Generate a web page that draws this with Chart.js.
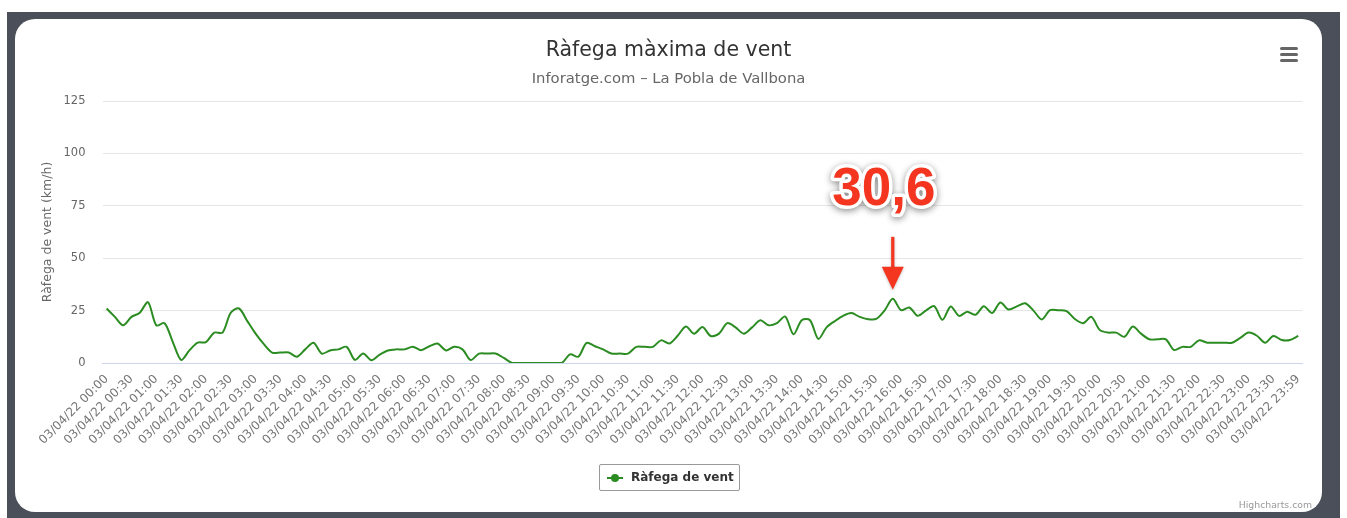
<!DOCTYPE html>
<html>
<head>
<meta charset="utf-8">
<script src="https://cdn.jsdelivr.net/npm/chart.js@4.4.1/dist/chart.umd.min.js"></script>
<style>
  html, body { margin: 0; padding: 0; background: #fff; width: 1347px; height: 518px; overflow: hidden; font-family: "DejaVu Sans", sans-serif; }
  #frame { position: absolute; left: 7px; top: 12px; width: 1333px; height: 506px; background: #4a4f59; }
  #card { position: absolute; left: 15px; top: 19px; width: 1307px; height: 493px; background: #fff; border-radius: 20px; overflow: hidden; }
  #chart { position: absolute; left: 0; top: 0; }
  #title { position: absolute; left: 0; top: 20px; width: 100%; text-align: center; font-size: 20.5px; line-height: 20.5px; color: #333; white-space: nowrap; }
  #subtitle { position: absolute; left: 0; top: 52px; width: 100%; text-align: center; font-size: 14.8px; line-height: 14.8px; color: #666; white-space: nowrap; }
  #menu { position: absolute; left: 1265px; top: 28px; width: 18px; height: 16px; }
  #menu i { position: absolute; left: 0; width: 18px; height: 3px; border-radius: 1.5px; background: #666; }
  #legend { position: absolute; left: 584px; top: 445px; width: 139px; height: 25px; border: 1px solid #999; border-radius: 2px; box-sizing: content-box; }
  #legend .line { position: absolute; left: 7px; top: 12px; width: 16px; height: 2px; background: #2b8c22; }
  #legend .dot { position: absolute; left: 11px; top: 9px; width: 8px; height: 8px; border-radius: 50%; background: #2b8c22; }
  #legend .txt { position: absolute; left: 31px; top: 5px; font-size: 12px; line-height: 14px; font-weight: bold; color: #333; white-space: nowrap; }
  #credits { position: absolute; right: 10px; top: 481px; font-size: 9.3px; line-height: 10px; color: #999; white-space: nowrap; }
</style>
</head>
<body>
<div id="frame"></div>
<div id="card">
  <canvas id="chart" width="1307" height="493"></canvas>
  <div id="title"></div>
  <div id="subtitle"></div>
  <div id="menu"><i style="top:0"></i><i style="top:6px"></i><i style="top:12px"></i></div>
  <div id="legend"><span class="line"></span><span class="dot"></span><span class="txt" id="legText"></span></div>
  <div id="credits">Highcharts.com</div>
</div>
<script>
const chartTitle = 'Ràfega màxima de vent';
const chartSubtitle = 'Inforatge.com – La Pobla de Vallbona';
const yAxisTitle = 'Ràfega de vent (km/h)';
const seriesName = 'Ràfega de vent';
const datePrefix = '03/04/22';
const lastTime = '23:59';

// 10-minute gust readings, 00:00 .. 23:50 plus 23:59 (km/h)
const gustValues = [
  26, 22, 18, 22, 24, 29, 18, 19, 10, 1.5,
  6, 9.7, 10, 14.5, 14.5, 24, 26, 20, 14, 9,
  5, 5, 5, 3, 6.5, 9.7, 4.5, 6, 6.5, 7.7,
  1.5, 4.5, 1.3, 4, 6, 6.5, 6.5, 7.8, 6.1, 8,
  9.3, 6, 7.7, 6.5, 1.4, 4.5, 4.5, 4.5, 2.4, 0,
  0, 0, 0, 0, 0, 0, 4.1, 3, 9.6, 8,
  6.5, 4.5, 4.5, 4.5, 7.7, 7.7, 7.7, 10.8, 9.3, 13,
  17.4, 14, 17.2, 12.9, 14, 19, 17, 14, 17, 20.4,
  18, 19, 22.2, 13.7, 20.4, 20.4, 11.5, 17, 20, 22.5,
  23.8, 22, 20.9, 21, 25, 30.6, 25.2, 26.5, 22.5, 25,
  27.1, 20.6, 27, 22.5, 24.5, 23, 27.1, 23.8, 28.9, 25.5,
  27, 28.5, 25, 20.8, 25.2, 25.2, 24.8, 21, 19, 22,
  15.8, 14.5, 14.5, 12.5, 17.4, 14, 11.3, 11.3, 11.3, 6.2,
  7.7, 7.7, 10.8, 9.7, 9.7, 9.7, 9.7, 12, 14.5, 13,
  9.7, 12.9, 11, 11, 12.9
];
const yMin = 0, yMax = 125, yStep = 25;
const labelEvery = 3;

const categories = [];
for (let h = 0; h < 24; h++) {
  for (let m = 0; m < 60; m += 10) {
    categories.push(datePrefix + ' ' + String(h).padStart(2, '0') + ':' + String(m).padStart(2, '0'));
  }
}
categories.push(datePrefix + ' ' + lastTime);

document.getElementById('title').textContent = chartTitle;
document.getElementById('subtitle').textContent = chartSubtitle;
document.getElementById('legText').textContent = seriesName;

const lineColor = '#2b8c22';
const arrowRed = '#f4351f';

const peakLabelPlugin = {
  id: 'peakLabel',
  afterDatasetsDraw(chart) {
    const data = chart.data.datasets[0].data;
    let idx = 0;
    data.forEach((v, i) => { if (v > data[idx]) idx = i; });
    const pt = chart.getDatasetMeta(0).data[idx];
    const ctx = chart.ctx;
    const x = pt.x, y = pt.y;
    ctx.save();
    ctx.shadowColor = 'rgba(0,0,0,0.25)';
    ctx.shadowBlur = 3;
    ctx.shadowOffsetY = 1;
    ctx.fillStyle = arrowRed;
    const tipY = y - 9, headTop = y - 32, stemTop = y - 62;
    ctx.fillRect(x - 1.6, stemTop, 3.2, headTop - stemTop + 1);
    ctx.beginPath();
    ctx.moveTo(x - 11, headTop);
    ctx.lineTo(x + 11, headTop);
    ctx.lineTo(x, tipY);
    ctx.closePath();
    ctx.fill();
    const txt = data[idx].toFixed(1).replace('.', ',');
    ctx.font = 'bold 53px "Liberation Sans", Arial, sans-serif';
    ctx.textAlign = 'center';
    ctx.textBaseline = 'alphabetic';
    const tx = x - 9, ty = y - 94;
    ctx.shadowColor = 'rgba(0,0,0,0.45)';
    ctx.shadowBlur = 7;
    ctx.shadowOffsetY = 2;
    ctx.lineJoin = 'round';
    ctx.strokeStyle = '#fff';
    ctx.lineWidth = 7;
    ctx.strokeText(txt, tx, ty);
    ctx.shadowColor = 'transparent';
    ctx.fillStyle = arrowRed;
    ctx.fillText(txt, tx, ty);
    ctx.restore();
  }
};

Chart.defaults.font.family = '"DejaVu Sans", sans-serif';

new Chart(document.getElementById('chart'), {
  type: 'line',
  data: {
    labels: categories,
    datasets: [{
      label: seriesName,
      data: gustValues,
      borderColor: lineColor,
      backgroundColor: lineColor,
      borderWidth: 2,
      pointRadius: 0,
      tension: 0.3,
      fill: false
    }]
  },
  options: {
    responsive: false,
    animation: false,
    layout: { padding: { left: 21, right: 19.6, top: 82, bottom: 49 } },
    plugins: {
      legend: { display: false },
      title: { display: false },
      tooltip: { enabled: false }
    },
    scales: {
      x: {
        type: 'category',
        offset: true,
        grid: { display: false, drawTicks: false },
        border: { display: true, color: '#ccd6eb', width: 1 },
        ticks: {
          autoSkip: false,
          minRotation: 45,
          maxRotation: 45,
          color: '#777',
          padding: 9,
          font: { size: 12 },
          callback(value, index) {
            return index % labelEvery === 0 ? this.getLabelForValue(value) : null;
          }
        },
        afterFit(scale) { scale.height = 100; }
      },
      y: {
        min: yMin,
        max: yMax,
        ticks: { stepSize: yStep, color: '#666', padding: 17, font: { size: 11.5 } },
        grid: {
          drawTicks: false,
          color: (c) => (c.tick && c.tick.value === 0 ? '#ccd6eb' : '#e6e6e6')
        },
        border: { display: false },
        title: { display: true, text: yAxisTitle, color: '#666', font: { size: 12.5 } },
        afterFit(scale) { scale.width = 66.5; }
      }
    }
  },
  plugins: [peakLabelPlugin]
});
</script>
</body>
</html>
